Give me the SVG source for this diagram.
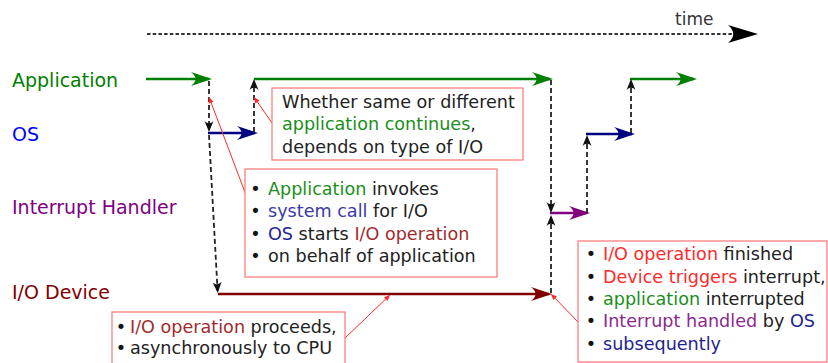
<svg xmlns="http://www.w3.org/2000/svg" width="828" height="363" viewBox="0 0 828 363">
  <style>
    text { font-family: "DejaVu Sans", "Liberation Sans", sans-serif; }
    .lane { font-size: 19px; }
    .note { font-size: 17.6px; fill: #222; }
    .bul { font-size: 17.6px; fill: #111; text-anchor: middle; }
    .box { fill: #fff; stroke: #ff7373; stroke-width: 1.2; }
    .flow { fill: none; stroke-width: 2.6; }
    .jump { fill: none; stroke: #222; stroke-width: 1.8; stroke-dasharray: 5 3; marker-end: url(#ah-black); }
    .call { fill: none; stroke: #ff2a2a; stroke-width: 1; marker-end: url(#ah-red); }
    .cg { fill: #1a8f1a; }
    .cb { fill: #23238e; }
    .cs { fill: #3a3aa8; }
    .cbr { fill: #a02c2c; }
    .cr { fill: #ff2a2a; }
    .cp { fill: #8b2a8b; }
  </style>
  <defs>
    <marker id="ah-green" viewBox="-22 -8 24 16" markerWidth="24" markerHeight="16" refX="-3" refY="0" orient="auto" markerUnits="userSpaceOnUse">
      <path d="M0,0 L-21,-7 C-15,-2.5 -15,2.5 -21,7 Z" fill="#008000"/>
    </marker>
    <marker id="ah-navy" viewBox="-22 -8 24 16" markerWidth="24" markerHeight="16" refX="-3" refY="0" orient="auto" markerUnits="userSpaceOnUse">
      <path d="M0,0 L-21,-7 C-15,-2.5 -15,2.5 -21,7 Z" fill="#000080"/>
    </marker>
    <marker id="ah-purple" viewBox="-22 -8 24 16" markerWidth="24" markerHeight="16" refX="-3" refY="0" orient="auto" markerUnits="userSpaceOnUse">
      <path d="M0,0 L-21,-7 C-15,-2.5 -15,2.5 -21,7 Z" fill="#800080"/>
    </marker>
    <marker id="ah-maroon" viewBox="-22 -8 24 16" markerWidth="24" markerHeight="16" refX="-3" refY="0" orient="auto" markerUnits="userSpaceOnUse">
      <path d="M0,0 L-21,-7 C-15,-2.5 -15,2.5 -21,7 Z" fill="#800000"/>
    </marker>
    <marker id="ah-black" viewBox="-12 -6 14 12" markerWidth="14" markerHeight="12" refX="-2" refY="0" orient="auto" markerUnits="userSpaceOnUse">
      <path d="M0,0 L-11,-4.5 C-8,-1.5 -8,1.5 -11,4.5 Z" fill="#111"/>
    </marker>
    <marker id="ah-time" viewBox="-32 -10 34 20" markerWidth="34" markerHeight="20" refX="-18" refY="0" orient="auto" markerUnits="userSpaceOnUse">
      <path d="M0,0 L-30,-9 C-23,-3 -23,3 -30,9 Z" fill="#000"/>
    </marker>
    <marker id="ah-red" viewBox="-7 -4 8 8" markerWidth="8" markerHeight="8" refX="0" refY="0" orient="auto" markerUnits="userSpaceOnUse">
      <path d="M0,0 L-6,-2.6 L-6,2.6 Z" fill="#ff2a2a"/>
    </marker>
  </defs>

  <!-- time axis -->
  <g id="time-axis">
    <path d="M147,34 H740" fill="none" stroke="#333" stroke-width="2" stroke-dasharray="3.5 2.2" marker-end="url(#ah-time)"/>
    <text x="675" y="25" font-size="17" fill="#333">time</text>
  </g>

  <!-- lane labels -->
  <g id="lane-application"><text class="lane" x="12" y="87" fill="#008000">Application</text></g>
  <g id="lane-os"><text class="lane" x="12" y="141" fill="#0000ff">OS</text></g>
  <g id="lane-interrupt"><text class="lane" x="12" y="214" fill="#800080">Interrupt Handler</text></g>
  <g id="lane-io"><text class="lane" x="12" y="299" fill="#800000">I/O Device</text></g>

  <!-- execution segments and control transfers -->
  <g id="connectors">
    <path class="flow" d="M146,79 H209" stroke="#008000" marker-end="url(#ah-green)"/>
    <path class="flow" d="M254,79 H550" stroke="#008000" marker-end="url(#ah-green)"/>
    <path class="flow" d="M630,79 H694" stroke="#008000" marker-end="url(#ah-green)"/>
    <path class="flow" d="M208,133 H255" stroke="#000080" marker-end="url(#ah-navy)"/>
    <path class="flow" d="M586,134 H632" stroke="#000080" marker-end="url(#ah-navy)"/>
    <path class="flow" d="M550,213 H587" stroke="#800080" marker-end="url(#ah-purple)"/>
    <path class="flow" d="M218,294 H549" stroke="#800000" marker-end="url(#ah-maroon)"/>

    <path class="jump" d="M209,81 V130"/>
    <path class="jump" d="M209,135 L217.6,291"/>
    <path class="jump" d="M254,132 V81"/>
    <path class="jump" d="M551,80 V211"/>
    <path class="jump" d="M551,293 V217"/>
    <path class="jump" d="M587,213 V137"/>
    <path class="jump" d="M631,133 V81"/>

    <path class="call" d="M272,123 L254,97"/>
    <path class="call" d="M246,195 L209,97"/>
    <path class="call" d="M345,338 L390,295"/>
    <path class="call" d="M578,322 L551,294"/>
  </g>

  <!-- callout notes -->
  <g id="note-continue">
    <rect class="box" x="272" y="88" width="251" height="72"/>
    <text class="note" x="282" y="108">Whether same or different</text>
    <text class="note" x="282" y="130"><tspan class="cg">application continues</tspan>,</text>
    <text class="note" x="282" y="153">depends on type of I/O</text>
  </g>

  <g id="note-syscall">
    <rect class="box" x="245" y="169" width="252" height="108"/>
    <text class="bul" x="255.5" y="195">•</text>
    <text class="bul" x="255.5" y="217">•</text>
    <text class="bul" x="255.5" y="240">•</text>
    <text class="bul" x="255.5" y="262">•</text>
    <text class="note" x="268" y="195"><tspan class="cg">Application</tspan> invokes</text>
    <text class="note" x="268" y="217"><tspan class="cs">system call</tspan> for I/O</text>
    <text class="note" x="268" y="240"><tspan class="cb">OS</tspan> starts <tspan class="cbr">I/O operation</tspan></text>
    <text class="note" x="268" y="262">on behalf of application</text>
  </g>

  <g id="note-async">
    <rect class="box" x="112" y="312" width="233" height="56"/>
    <text class="bul" x="121" y="333">•</text>
    <text class="bul" x="121" y="354">•</text>
    <text class="note" x="130" y="333"><tspan class="cbr">I/O operation</tspan> proceeds,</text>
    <text class="note" x="130" y="354">asynchronously to CPU</text>
  </g>

  <g id="note-interrupt">
    <rect class="box" x="578" y="241" width="249" height="121"/>
    <text class="bul" x="591" y="260">•</text>
    <text class="bul" x="591" y="283">•</text>
    <text class="bul" x="591" y="305">•</text>
    <text class="bul" x="591" y="327">•</text>
    <text class="bul" x="591" y="350">•</text>
    <text class="note" x="603" y="260"><tspan class="cr">I/O operation</tspan> finished</text>
    <text class="note" x="603" y="283"><tspan class="cr">Device triggers</tspan> interrupt,</text>
    <text class="note" x="603" y="305"><tspan class="cg">application</tspan> interrupted</text>
    <text class="note" x="603" y="327"><tspan class="cp">Interrupt handled</tspan> by <tspan class="cb">OS</tspan></text>
    <text class="note" x="603" y="350"><tspan class="cb">subsequently</tspan></text>
  </g>
</svg>
